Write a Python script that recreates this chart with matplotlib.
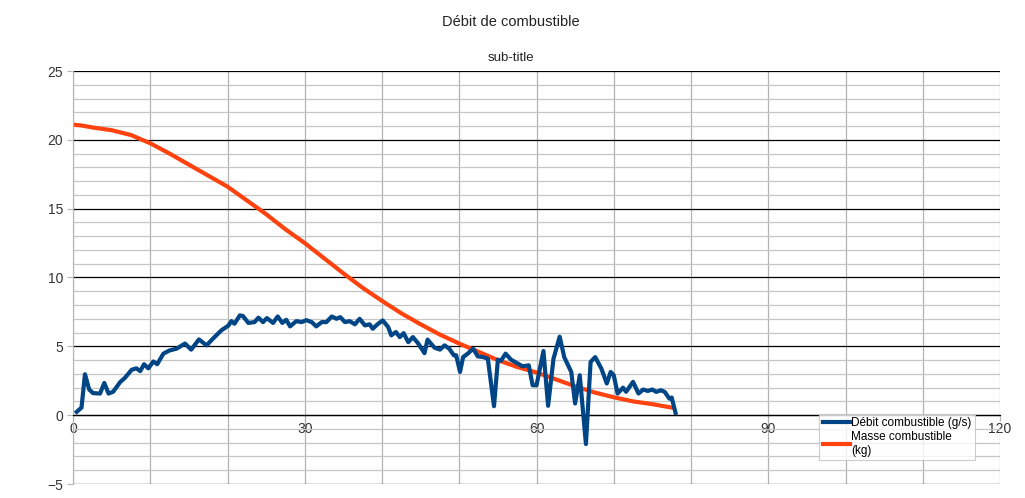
import matplotlib
matplotlib.use("Agg")
import matplotlib.pyplot as plt
from matplotlib.ticker import MultipleLocator

# ---- data ----
debit_t = [0.48, 1.1, 1.55, 2.1, 2.6, 3.5, 4.05, 4.6, 5.2, 6.1, 6.7, 7.6, 8.2, 8.7, 9.2, 9.75,
           10.4, 10.9, 11.7, 12.5, 13.4, 14.5, 15.3, 16.3, 17.3, 18.1, 19.2, 20.1, 20.5, 20.9,
           21.6, 22.0, 22.7, 23.5, 24.0, 24.6, 25.1, 25.9, 26.5, 27.1, 27.6, 28.1, 28.9, 29.6,
           30.2, 30.9, 31.5, 32.2, 32.8, 33.5, 34.1, 34.6, 35.2, 35.8, 36.5, 37.1, 37.8, 38.4,
           38.8, 39.5, 40.1, 40.8, 41.2, 41.8, 42.3, 42.8, 43.4, 44.0, 44.7, 45.5, 45.9, 46.8,
           47.5, 48.1, 48.7, 49.3, 49.6, 50.1, 50.5, 51.1, 51.8, 52.4, 53.1, 53.7, 54.5, 55.0,
           55.4, 56.0, 56.7, 57.6, 58.2, 59.0, 59.5, 60.0, 60.9, 61.5, 62.2, 63.0, 63.6, 64.5,
           65.0, 65.6, 66.4, 67.0, 67.6, 68.4, 69.1, 69.6, 70.0, 70.5, 71.2, 71.6, 72.5, 73.2,
           73.8, 74.4, 75.0, 75.5, 76.1, 76.6, 77.2, 77.5, 78.0]
debit_v = [0.24, 0.55, 2.97, 1.86, 1.6, 1.57, 2.34, 1.57, 1.7, 2.4, 2.7, 3.3, 3.4, 3.2, 3.7, 3.4,
           3.9, 3.7, 4.47, 4.7, 4.83, 5.2, 4.76, 5.5, 5.07, 5.55, 6.16, 6.5, 6.83, 6.64,
           7.25, 7.2, 6.7, 6.76, 7.08, 6.76, 7.05, 6.7, 7.17, 6.7, 6.93, 6.45, 6.83, 6.76,
           6.9, 6.76, 6.45, 6.76, 6.76, 7.17, 7.0, 7.12, 6.76, 6.83, 6.6, 7.0, 6.52, 6.6,
           6.28, 6.64, 6.88, 6.4, 5.8, 6.04, 5.67, 5.96, 5.3, 5.67, 5.2, 4.5, 5.49, 4.9,
           4.76, 5.07, 4.83, 4.35, 4.35, 3.14, 4.22, 4.47, 4.83, 4.27, 4.22, 4.1, 0.65, 4.03,
           3.95, 4.47, 4.03, 3.74, 3.55, 3.62, 2.17, 2.17, 4.66, 0.68, 4.1, 5.7, 4.2, 3.14,
           0.85, 2.9, -2.1, 3.86, 4.22, 3.38, 2.3, 3.14, 2.9, 1.57, 2.0, 1.7, 2.42, 1.57,
           1.86, 1.76, 1.86, 1.69, 1.81, 1.69, 1.2, 1.28, 0.17]

masse_t = [0, 1, 2.5, 5, 7.5, 10, 12.5, 15, 17.5, 20, 22.5, 25, 27.5, 30, 32.5, 35, 37.5,
           40, 42.5, 45, 47.5, 50, 52.5, 55, 57.5, 60, 62.5, 65, 67.5, 70, 72.5, 75, 77.5]
masse_v = [21.1, 21.05, 20.9, 20.7, 20.35, 19.75, 19.0, 18.2, 17.4, 16.6, 15.6, 14.6, 13.5,
           12.5, 11.4, 10.3, 9.25, 8.3, 7.4, 6.6, 5.85, 5.2, 4.6, 4.0, 3.5, 3.1, 2.6, 2.1,
           1.65, 1.3, 1.0, 0.8, 0.55]

labels = ["Débit combustible (g/s)", "Masse combustible\n(kg)"]
title = "Débit de combustible"
subtitle = "sub-title"

plt.rcParams['font.family'] = ['Liberation Sans', 'DejaVu Sans']

fig = plt.figure(figsize=(10.25, 4.98), dpi=100)
ax = fig.add_axes([73/1025, 14/498, 927/1025, 413/498])

ax.set_xlim(0, 120)
ax.set_ylim(-5, 25)

ax.xaxis.set_major_locator(MultipleLocator(30))
ax.xaxis.set_minor_locator(MultipleLocator(10))
ax.yaxis.set_major_locator(MultipleLocator(5))
ax.yaxis.set_minor_locator(MultipleLocator(1))

ax.grid(True, which='minor', axis='y', color='#c6c6c6', lw=0.9)
ax.grid(True, which='major', axis='y', color='#000000', lw=0.9)
ax.grid(True, which='both', axis='x', color='#b3b3b3', lw=0.9)
ax.set_axisbelow(True)

for s in ['top', 'right']:
    ax.spines[s].set_visible(False)
ax.spines['left'].set_color('#b3b3b3')
ax.spines['bottom'].set_position(('data', 0))
ax.spines['bottom'].set_color('#000000')
ax.spines['bottom'].set_linewidth(0.9)

ax.tick_params(axis='both', which='major', labelsize=10, length=4, width=0.8)
ax.tick_params(axis='both', which='minor', length=0)
ax.tick_params(axis='y', colors='#b3b3b3', labelcolor='#333333', pad=3)
ax.tick_params(axis='x', colors='#b3b3b3', labelcolor='#333333', pad=1)

l1, = ax.plot(debit_t, debit_v, color='#004586', lw=3, solid_joinstyle='round',
              label=labels[0], zorder=3)
l2, = ax.plot(masse_t, masse_v, color='#ff420e', lw=3, solid_joinstyle='round',
              label=labels[1], zorder=2)

leg = ax.legend(handles=[l1, l2], loc='upper left', bbox_to_anchor=(0.805, 0.17),
                fontsize=8.5, frameon=True, fancybox=False, borderpad=0.3,
                handlelength=2.3, handletextpad=0.1, labelspacing=0.15,
                borderaxespad=0)
leg.get_frame().set_edgecolor('#c0c0c0')
leg.get_frame().set_linewidth(0.8)
leg.set_zorder(5)

fig.text(511/1025, 1 - 22/498, title, ha='center', va='center', fontsize=10.5, color='#222222')
fig.text(511/1025, 1 - 58/498, subtitle, ha='center', va='center', fontsize=9.5, color='#222222')

fig.savefig('out.png', dpi=100)
